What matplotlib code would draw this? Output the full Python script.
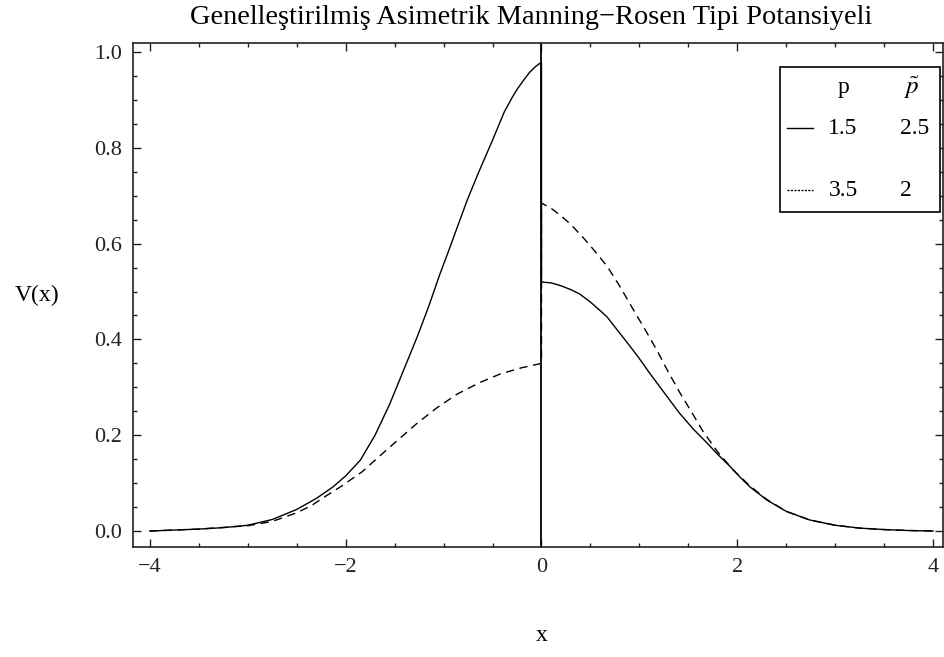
import matplotlib
matplotlib.use('Agg')
import matplotlib.pyplot as plt
from matplotlib.patches import Rectangle
from matplotlib.ticker import MultipleLocator, FormatStrFormatter

plt.rcParams['font.family'] = ['Liberation Serif', 'DejaVu Serif']
plt.rcParams['mathtext.fontset'] = 'stix'

# curve 1: p = 1.5, p~ = 2.5 (solid), jump at x = 0
x_solid = [-4.0, -3.75, -3.5, -3.25, -3.0, -2.75, -2.5, -2.3, -2.13, -2.0, -1.85, -1.7,
           -1.55, -1.45, -1.35, -1.27, -1.15, -1.04, -0.93, -0.85, -0.76, -0.65, -0.5,
           -0.38, -0.3, -0.25, -0.18, -0.12, -0.06, 0.0,
           0.0, 0.1, 0.2, 0.3, 0.39, 0.5, 0.6, 0.67, 0.8, 0.9, 1.0, 1.1, 1.18, 1.3, 1.41,
           1.55, 1.69, 1.8, 1.93, 2.03, 2.13, 2.3, 2.5, 2.74, 3.0, 3.25, 3.5, 3.75, 4.0]
v_solid = [0.0, 0.002, 0.004, 0.007, 0.012, 0.024, 0.045, 0.068, 0.092, 0.115, 0.148, 0.2,
           0.265, 0.315, 0.365, 0.405, 0.47, 0.535, 0.595, 0.64, 0.69, 0.745, 0.816,
           0.875, 0.905, 0.922, 0.942, 0.958, 0.97, 0.979,
           0.52, 0.518, 0.512, 0.504, 0.495, 0.478, 0.46, 0.447, 0.413, 0.387, 0.36, 0.331,
           0.309, 0.276, 0.246, 0.213, 0.184, 0.16, 0.134, 0.112, 0.092, 0.065, 0.041,
           0.023, 0.012, 0.006, 0.003, 0.001, 0.0]

# curve 2: p = 3.5, p~ = 2 (dashed), jump at x = 0
x_dash = [-4.0, -3.5, -3.0, -2.75, -2.5, -2.35, -2.24, -2.04, -1.83, -1.65, -1.45, -1.27,
          -1.07, -0.86, -0.63, -0.42, -0.2, 0.0,
          0.0, 0.11, 0.2, 0.3, 0.42, 0.53, 0.67, 0.8, 0.93, 1.06, 1.18, 1.29, 1.41, 1.54,
          1.65, 1.8, 1.96, 2.13, 2.3, 2.5, 2.74, 3.0, 3.25, 3.5, 3.75, 4.0]
v_dash = [0.0, 0.004, 0.011, 0.02, 0.038, 0.053, 0.068, 0.094, 0.124, 0.157, 0.193, 0.225,
          0.257, 0.286, 0.31, 0.328, 0.341, 0.35,
          0.685, 0.672, 0.658, 0.64, 0.614, 0.588, 0.553, 0.511, 0.465, 0.42, 0.377, 0.334,
          0.29, 0.246, 0.208, 0.165, 0.127, 0.094, 0.066, 0.041, 0.023, 0.012, 0.006,
          0.003, 0.001, 0.0]

p_vals = ['1.5', '3.5']
pt_vals = ['2.5', '2']

fig = plt.figure(figsize=(9.44, 6.57), dpi=100)
ax = fig.add_axes([133 / 944, 110 / 657, 810 / 944, 504 / 657])

ax.plot(x_solid, v_solid, color='black', lw=1.0)
ax.plot(x_dash, v_dash, color='black', lw=1.0, dashes=(6, 4))
ax.axvline(0, color='black', lw=1.3)

ax.set_xlim(-4.172, 4.101)
ax.set_ylim(-0.0334, 1.019)
ax.xaxis.set_major_locator(MultipleLocator(2))
ax.xaxis.set_minor_locator(MultipleLocator(0.5))
ax.yaxis.set_major_locator(MultipleLocator(0.2))
ax.yaxis.set_minor_locator(MultipleLocator(0.05))
ax.yaxis.set_major_formatter(FormatStrFormatter('%.1f'))
ax.tick_params(which='both', direction='in', top=True, right=True, color='#222222', width=1.0)
ax.tick_params(which='major', length=6, labelsize=16, labelcolor='#222222', pad=8)
ax.tick_params(which='minor', length=3)
for s in ax.spines.values():
    s.set_linewidth(1.2)
    s.set_color('#222222')

ax.set_xlabel('x', fontsize=17)
ax.xaxis.set_label_coords(0.504, -0.175)
ax.xaxis.label.set_va('center')
ax.set_ylabel('V(x)', fontsize=17, rotation=0, ha='center', va='center')
ax.yaxis.set_label_coords(-0.1185, 0.5)

fig.text(531 / 944, 1 - 17 / 657, 'Genelleştirilmiş Asimetrik Manning\u2212Rosen Tipi Potansiyeli',
         ha='center', va='center', fontsize=20.4)

# legend table
box = Rectangle((780, 657 - 212), 160, 145, transform=None, facecolor='white',
                edgecolor='black', lw=1.2, zorder=5)
fig.patches.append(box)
cols = [843, 912]
fig.text(cols[0] / 944, 1 - 88 / 657, 'p', ha='center', va='center', fontsize=17, zorder=6)
fig.text(cols[1] / 944, 1 - 88 / 657, r'$\tilde{p}$', ha='center', va='center', fontsize=18, zorder=6)
rows = [128, 190]
styles = [dict(ls='-'), dict(dashes=(1.5, 1))]
for i in range(2):
    y = 1 - rows[i] / 657
    fig.add_artist(plt.Line2D([787 / 944, 813 / 944], [y, y], transform=fig.transFigure,
                              color='black', lw=1.0, zorder=6, **styles[i]))
    fig.text(cols[0] / 944, y, p_vals[i], ha='center', va='center', fontsize=17, zorder=6)
    fig.text((cols[1] - 12) / 944, y, pt_vals[i], ha='left', va='center', fontsize=17, zorder=6)

fig.savefig('out.png', dpi=100)
